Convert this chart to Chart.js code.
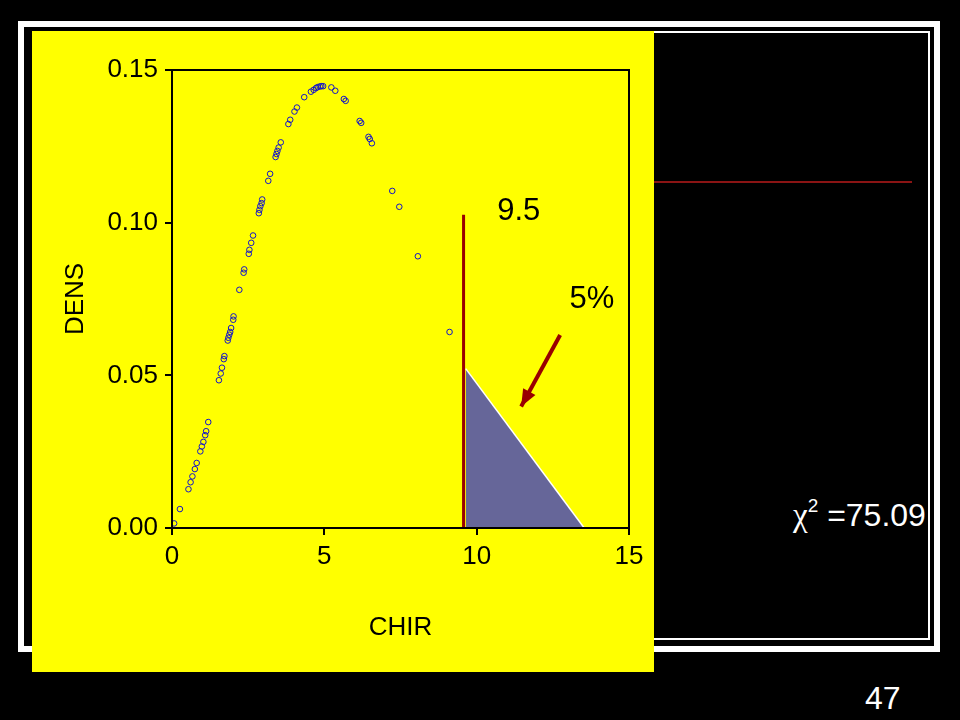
<!DOCTYPE html>
<html>
<head>
<meta charset="utf-8">
<script src="https://cdn.jsdelivr.net/npm/chart.js"></script>
<style>
  body { margin: 0; width: 960px; height: 720px; background: #000; overflow: hidden; position: relative; font-family: "Liberation Sans", Arial, sans-serif; }
  .frame { position: absolute; box-sizing: border-box; }
  #outer { left: 18px; top: 21px; width: 922px; height: 631px; border: 6px solid #fff; }
  #inner { left: 33px; top: 31px; width: 897px; height: 609px; border: 2px solid #fff; }
  #panel { position: absolute; left: 32px; top: 31px; width: 622px; height: 641px; background: #ffff00; }
  #panel canvas { position: absolute; left: 0; top: 1px; }
  #rule { position: absolute; left: 654px; top: 181px; width: 258px; height: 1.5px; background: #8b1414; }
  #stat { position: absolute; left: 793px; top: 500px; color: #fff; font-size: 32px; line-height: 31px; white-space: nowrap; }
  #stat .chi { font-family: "Liberation Serif", serif; font-size: 33px; }
  #stat sup { font-size: 19px; vertical-align: 14px; line-height: 0; }
  #page { position: absolute; left: 865px; top: 682px; color: #fff; font-size: 32px; line-height: 32px; }
</style>
</head>
<body>
<div class="frame" id="outer"></div>
<div class="frame" id="inner"></div>
<div id="rule"></div>
<div id="panel"><canvas id="densChart" width="622" height="640"></canvas></div>
<div id="stat"><span class="chi">χ</span><sup>2</sup> =75.09</div>
<div id="page">47</div>
<script>
// chi-square density points
const chirValues = [0.07, 0.26, 0.54, 0.61, 0.67, 0.75, 0.81, 0.93, 0.98, 1.03, 1.09, 1.12, 1.19,
  1.54, 1.60, 1.64, 1.70, 1.72, 1.83, 1.85, 1.88, 1.91, 1.94, 2.01, 2.02, 2.21, 2.35, 2.37,
  2.52, 2.54, 2.60, 2.66, 2.85, 2.87, 2.90, 2.94, 2.96, 3.16, 3.22, 3.40, 3.43, 3.46, 3.50, 3.57,
  3.82, 3.88, 4.02, 4.10, 4.34, 4.56, 4.65, 4.73, 4.78, 4.85, 4.90, 4.96, 5.23, 5.36, 5.64, 5.70,
  6.16, 6.21, 6.45, 6.49, 6.56, 7.23, 7.46, 8.07, 9.11];
const densValues = [0.0015, 0.0062, 0.0127, 0.0150, 0.0169, 0.0193, 0.0213, 0.0251, 0.0267, 0.0282, 0.0304, 0.0317, 0.0347,
  0.0484, 0.0506, 0.0525, 0.0553, 0.0563, 0.0614, 0.0623, 0.0633, 0.0642, 0.0655, 0.0682, 0.0693, 0.0780, 0.0836, 0.0847,
  0.0898, 0.0911, 0.0934, 0.0958, 0.1031, 0.1042, 0.1054, 0.1064, 0.1076, 0.1137, 0.1160, 0.1215, 0.1225, 0.1235, 0.1246, 0.1263,
  0.1323, 0.1337, 0.1364, 0.1377, 0.1411, 0.1429, 0.1435, 0.1441, 0.1444, 0.1446, 0.1447, 0.1447, 0.1443, 0.1432, 0.1405, 0.1399,
  0.1333, 0.1327, 0.1281, 0.1274, 0.1260, 0.1104, 0.1052, 0.0890, 0.0642];

const xTicks = [0, 5, 10, 15];
const yTicks = [0, 0.05, 0.10, 0.15];

// critical value line, 5% tail, arrow and labels
const cutoffX = [9.57, 9.57];
const cutoffY = [0.1026, 0];
const tailX = [9.64, 13.53];
const tailY = [0.0522, 0];
const arrowX = [12.74, 11.46];
const arrowY = [0.0632, 0.0398];
const noteText = ['9.5', '5%'];
const noteX = [11.38, 13.78];
const noteY = [0.1036, 0.0747];

const toPts = (xs, ys) => xs.map((v, i) => ({x: v, y: ys[i]}));

Chart.defaults.font.family = '"Liberation Sans", Arial, sans-serif';
Chart.defaults.color = '#000';

const overlay = {
  id: 'overlay',
  afterDatasetsDraw(chart) {
    const {ctx, chartArea, scales: {x, y}} = chart;
    ctx.save();
    ctx.strokeStyle = '#000';
    ctx.lineWidth = 2;
    ctx.strokeRect(chartArea.left, chartArea.top, chartArea.width, chartArea.height);

    // arrow head
    const x0 = x.getPixelForValue(arrowX[0]), y0 = y.getPixelForValue(arrowY[0]);
    const x1 = x.getPixelForValue(arrowX[1]), y1 = y.getPixelForValue(arrowY[1]);
    const a = Math.atan2(y1 - y0, x1 - x0);
    const len = 17, half = 7;
    ctx.fillStyle = '#990000';
    ctx.beginPath();
    ctx.moveTo(x1, y1);
    ctx.lineTo(x1 - len * Math.cos(a) + half * Math.sin(a), y1 - len * Math.sin(a) - half * Math.cos(a));
    ctx.lineTo(x1 - len * Math.cos(a) - half * Math.sin(a), y1 - len * Math.sin(a) + half * Math.cos(a));
    ctx.closePath();
    ctx.fill();

    ctx.fillStyle = '#000';
    ctx.font = '31px "Liberation Sans", Arial, sans-serif';
    ctx.textAlign = 'center';
    ctx.textBaseline = 'middle';
    noteText.forEach((t, i) => {
      ctx.fillText(t, x.getPixelForValue(noteX[i]), y.getPixelForValue(noteY[i]));
    });
    ctx.restore();
  }
};

const ctx = document.getElementById('densChart').getContext('2d');
const densChart = new Chart(ctx, {
  type: 'scatter',
  data: {
    datasets: [
      {
        label: 'tail',
        data: toPts(tailX, tailY),
        showLine: true,
        borderColor: '#ffffff',
        borderWidth: 1.5,
        backgroundColor: '#666699',
        fill: 'origin',
        pointRadius: 0
      },
      {
        label: 'cutoff',
        data: toPts(cutoffX, cutoffY),
        showLine: true,
        borderColor: '#990000',
        borderWidth: 3,
        pointRadius: 0
      },
      {
        label: 'arrow',
        data: toPts(arrowX, arrowY),
        showLine: true,
        borderColor: '#990000',
        borderWidth: 4,
        pointRadius: 0
      },
      {
        label: 'DENS',
        data: toPts(chirValues, densValues),
        pointRadius: 2.8,
        pointBorderWidth: 1,
        borderColor: '#1414c8',
        backgroundColor: 'rgba(0,0,0,0)'
      }
    ]
  },
  options: {
    responsive: false,
    animation: false,
    layout: { padding: { top: 38, right: 25, left: 0, bottom: 0 } },
    plugins: { legend: { display: false }, tooltip: { enabled: false } },
    scales: {
      x: {
        type: 'linear',
        min: 0,
        max: 15,
        afterFit(scale) { scale.height = 144; },
        afterBuildTicks(scale) { scale.ticks = xTicks.map(v => ({value: v})); },
        ticks: { font: { size: 26 }, padding: 6, color: '#000' },
        grid: { drawOnChartArea: false, color: '#000', lineWidth: 2, tickLength: 7 },
        border: { color: '#000', width: 2 },
        title: { display: true, text: 'CHIR', font: { size: 26 }, color: '#000', padding: { top: 0, bottom: 29 } }
      },
      y: {
        type: 'linear',
        min: 0,
        max: 0.15,
        afterFit(scale) { scale.width = 140; },
        afterBuildTicks(scale) { scale.ticks = yTicks.map(v => ({value: v})); },
        ticks: { font: { size: 26 }, padding: 7, color: '#000', callback: v => v.toFixed(2) },
        grid: { drawOnChartArea: false, color: '#000', lineWidth: 2, tickLength: 7 },
        border: { color: '#000', width: 2 },
        title: { display: true, text: 'DENS', font: { size: 26 }, color: '#000', padding: { top: 28, bottom: 0 } }
      }
    }
  },
  plugins: [overlay]
});
</script>
</body>
</html>
